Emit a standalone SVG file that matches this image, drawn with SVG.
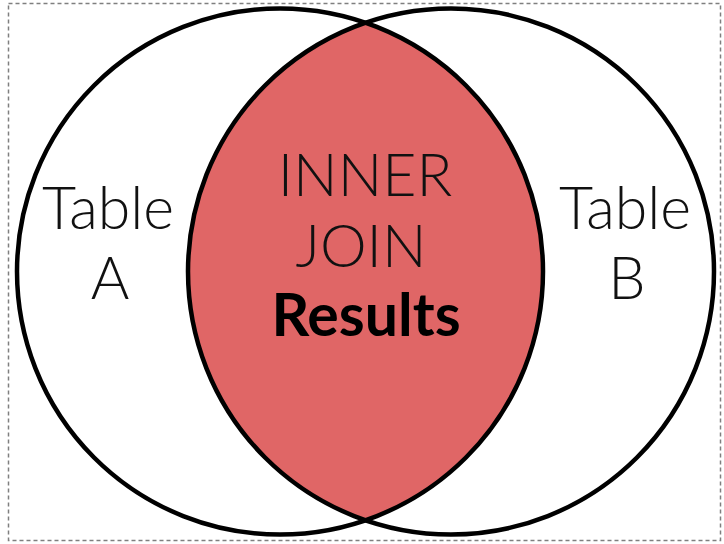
<svg xmlns="http://www.w3.org/2000/svg" width="724" height="544" viewBox="0 0 724 544">
  <style>
    .frame { fill: none; stroke: #7f7f7f; stroke-width: 1.5; stroke-dasharray: 4 3; }
    .ring { fill: none; stroke: #000; stroke-width: 4.5; }
    .overlap { fill: #e06666; stroke: none; }
    .lbl { font-family: "Lato", "Liberation Sans", sans-serif; font-weight: 300; font-size: 59px; fill: #111; text-anchor: middle; }
    .strong { font-family: "Lato", "Liberation Sans", sans-serif; font-weight: 700; font-size: 59px; fill: #000; text-anchor: middle; }
  </style>
  <rect x="0" y="0" width="724" height="544" fill="#fff"/>
  <rect class="frame" x="8.5" y="3.5" width="712" height="537"/>

  <!-- shared region of the two sets -->
  <g id="inner-join">
    <path class="overlap" d="M 365.5 22.8 A 263 263 0 0 1 365.5 520.2 A 263 263 0 0 1 365.5 22.8 Z"/>
    <text class="lbl" x="365" y="196">INNER</text>
    <text class="lbl" x="361" y="267">JOIN</text>
    <text class="strong" x="366" y="336">Results</text>
  </g>

  <g id="table-a">
    <circle class="ring" cx="280" cy="271.5" r="263"/>
    <text class="lbl" x="108" y="229">Table</text>
    <text class="lbl" x="110" y="299">A</text>
  </g>

  <g id="table-b">
    <circle class="ring" cx="451" cy="271.5" r="263"/>
    <text class="lbl" x="625" y="229">Table</text>
    <text class="lbl" x="627" y="299">B</text>
  </g>
</svg>
